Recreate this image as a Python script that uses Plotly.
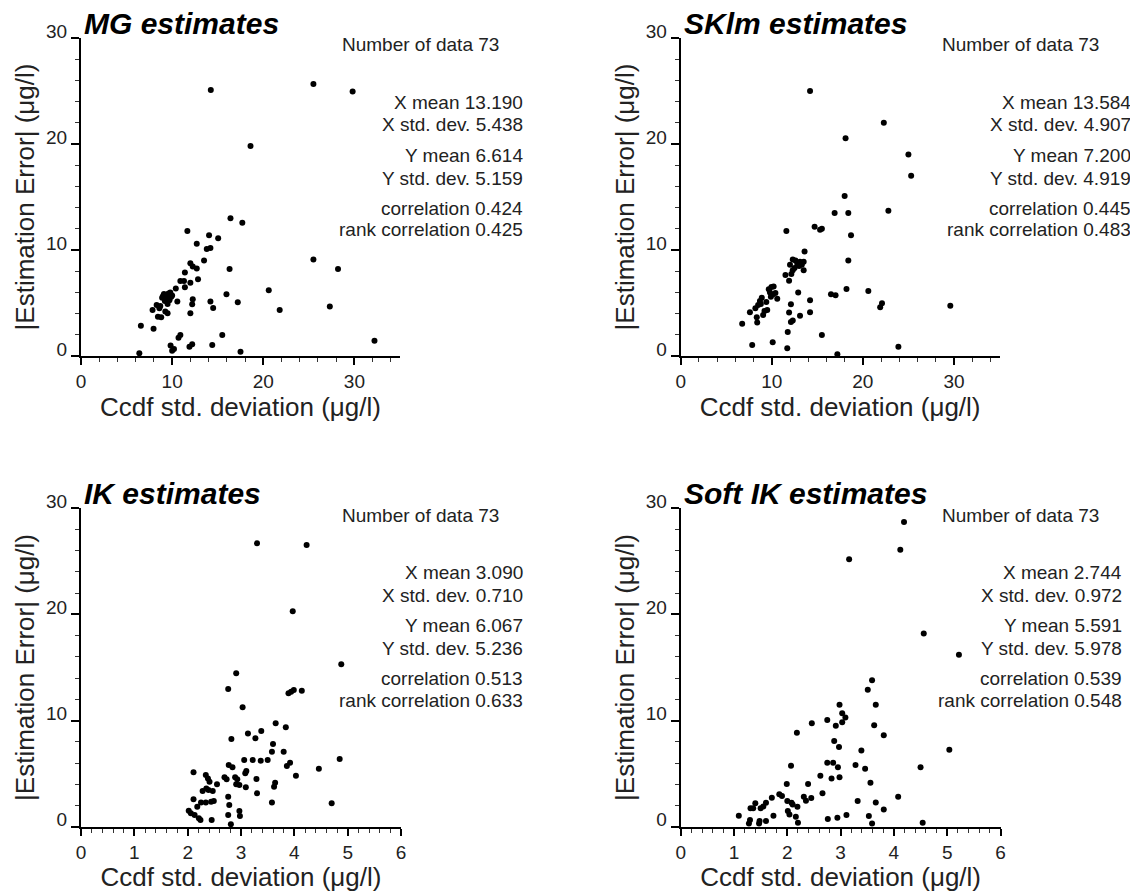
import plotly.graph_objects as go

# ---------------- data ----------------
mg_x = [14.24, 25.5, 29.8, 18.6, 16.4, 17.7, 11.67, 14.05, 15.05, 12.7, 13.8, 14.2, 25.5, 28.2, 16.3,
        13.5, 12.0, 12.26, 12.7, 11.4, 12.84, 10.9, 11.3, 12.0, 11.4, 10.4, 20.6, 9.8, 9.4, 9.0,
        9.9, 9.3, 9.7, 8.9, 15.96, 10.57, 12.26, 14.2, 17.2, 12.2, 8.3, 8.7, 27.3, 14.5, 21.8,
        7.85, 9.25, 9.5, 8.44, 8.8, 12.0, 6.57, 7.96, 10.9, 10.7, 15.5, 14.4, 12.2, 11.9, 9.83,
        10.2, 10.0, 6.4, 17.5, 32.2, 9.6, 9.2, 10.0, 9.5, 9.1, 9.7, 8.6, 9.3]
mg_y = [25.1, 25.65, 24.96, 19.8, 13.0, 12.56, 11.8, 11.4, 11.1, 10.6, 10.1, 10.2, 9.1, 8.2, 8.2,
        9.0, 8.75, 8.44, 8.25, 7.87, 7.24, 7.08, 7.08, 6.92, 6.48, 6.36, 6.2, 5.98, 5.76, 5.67,
        5.6, 5.45, 5.38, 5.5, 5.82, 5.13, 5.35, 5.13, 5.07, 4.88, 4.82, 4.72, 4.66, 4.53, 4.34,
        4.34, 4.19, 4.03, 3.71, 3.65, 4.03, 2.86, 2.58, 1.98, 1.73, 1.98, 1.04, 1.1, 0.88, 0.98,
        0.66, 0.5, 0.25, 0.41, 1.44, 5.9, 5.2, 5.7, 4.9, 5.85, 5.25, 4.5, 5.55]

sk_x = [14.2, 22.3, 18.1, 25.0, 25.3, 18.0, 16.9, 18.4, 22.8, 11.6, 14.7, 15.3, 15.5, 18.7, 13.6,
        18.4, 12.3, 12.6, 13.1, 13.5, 12.0, 13.0, 12.3, 13.5, 11.5, 11.9, 12.15, 9.96, 10.2, 9.67,
        9.8, 10.1, 10.6, 12.9, 18.2, 20.6, 16.5, 17.0, 8.9, 8.7, 8.5, 8.2, 7.6, 9.5, 9.2,
        9.05, 14.2, 12.1, 22.1, 21.9, 29.6, 11.9, 14.2, 13.1, 8.35, 12.3, 12.1, 8.4, 6.75, 11.75,
        15.5, 10.1, 7.85, 11.7, 23.9, 17.2, 9.4, 10.4, 12.8, 13.3, 8.8, 9.9, 12.5]
sk_y = [25.0, 22.0, 20.55, 19.0, 17.0, 15.1, 13.5, 13.5, 13.7, 11.8, 12.2, 11.9, 12.0, 11.4, 9.85,
        9.0, 9.1, 9.0, 8.9, 8.9, 8.6, 8.5, 8.1, 8.1, 7.65, 7.1, 7.74, 6.5, 6.55, 6.3,
        6.0, 5.8, 5.4, 6.0, 6.33, 6.14, 5.82, 5.73, 5.5, 5.2, 4.8, 4.5, 4.12, 4.34, 4.25,
        3.87, 5.26, 4.88, 4.97, 4.6, 4.75, 4.1, 4.12, 3.8, 3.65, 3.34, 3.21, 3.15, 3.05, 2.27,
        1.98, 1.29, 1.04, 0.72, 0.88, 0.16, 5.1, 5.95, 8.7, 8.6, 4.9, 5.6, 8.3]

ik_x = [3.30, 4.23, 3.97, 4.88, 2.91, 2.76, 3.89, 3.94, 3.99, 4.14, 3.03, 3.65, 3.84, 3.13, 3.38,
        3.27, 2.82, 3.6, 3.8, 3.58, 3.06, 3.22, 3.37, 3.5, 4.85, 3.92, 3.86, 4.46, 2.77, 2.84,
        3.1, 3.08, 4.03, 2.11, 2.34, 2.38, 2.41, 2.55, 2.69, 2.73, 2.89, 2.93, 3.29, 2.91, 2.97,
        3.09, 3.64, 3.62, 2.28, 2.39, 2.47, 3.3, 2.76, 2.11, 2.25, 2.34, 2.44, 2.49, 3.58, 4.7,
        2.18, 2.78, 2.02, 2.06, 2.13, 2.97, 2.98, 2.21, 2.24, 2.45, 2.76, 2.81, 2.35]
ik_y = [26.7, 26.55, 20.3, 15.3, 14.45, 12.97, 12.57, 12.72, 12.88, 12.82, 11.25, 9.74, 9.36, 8.77, 9.02,
        8.33, 8.26, 7.8, 7.07, 7.07, 6.28, 6.28, 6.22, 6.28, 6.38, 6.03, 5.72, 5.47, 5.81, 5.59,
        5.25, 5.03, 4.81, 5.12, 4.87, 4.55, 4.24, 3.99, 4.65, 4.46, 4.65, 4.46, 4.49, 3.99, 3.93,
        3.71, 4.15, 3.77, 3.36, 3.46, 3.36, 3.14, 2.83, 2.58, 2.29, 2.29, 2.36, 2.42, 2.29, 2.2,
        1.89, 2.04, 1.51, 1.26, 1.1, 1.48, 1.0, 0.79, 0.63, 0.63, 1.1, 0.22, 3.6]

sik_x = [4.19, 4.12, 3.16, 4.56, 5.22, 3.59, 3.51, 2.98, 3.66, 3.03, 3.09, 3.03, 2.75, 2.46, 2.91,
         3.63, 2.18, 3.81, 2.88, 2.97, 3.39, 5.04, 2.75, 2.86, 2.07, 3.28, 2.95, 3.46, 4.5, 2.62,
         2.83, 2.98, 3.56, 1.99, 2.39, 2.66, 1.85, 1.71, 2.31, 2.35, 3.32, 3.66, 4.08, 2.0, 2.08,
         1.6, 1.4, 1.31, 1.36, 1.5, 2.19, 2.01, 2.04, 3.81, 1.09, 1.74, 2.16, 3.11, 2.94, 2.76,
         3.53, 1.3, 1.28, 1.48, 1.47, 1.6, 2.2, 3.59, 4.54, 1.9, 2.1, 1.55, 2.45]
sik_y = [28.7, 26.1, 25.2, 18.2, 16.2, 13.8, 12.9, 11.5, 11.5, 10.7, 10.3, 9.83, 10.05, 9.74, 9.52,
         9.55, 8.86, 8.61, 8.07, 7.51, 7.19, 7.26, 6.03, 6.03, 5.75, 5.81, 5.59, 5.47, 5.59, 4.81,
         4.55, 4.65, 4.15, 4.02, 4.02, 3.14, 3.05, 2.73, 2.83, 2.45, 2.42, 2.29, 2.83, 2.42, 2.26,
         2.26, 2.2, 1.73, 1.73, 1.73, 1.89, 1.48, 1.16, 1.63, 1.04, 1.04, 0.94, 1.1, 0.85, 0.72,
         1.0, 0.63, 0.31, 0.53, 0.31, 0.53, 0.38, 0.31, 0.38, 2.9, 2.1, 1.9, 2.7]

titles = ["MG estimates", "SKlm estimates", "IK estimates", "Soft IK estimates"]
stat_labels = ["X mean", "X std. dev.", "Y mean", "Y std. dev.", "correlation", "rank correlation"]
mg_stats = ["13.190", "5.438", "6.614", "5.159", "0.424", "0.425"]
sk_stats = ["13.584", "4.907", "7.200", "4.919", "0.445", "0.483"]
ik_stats = ["3.090", "0.710", "6.067", "5.236", "0.513", "0.633"]
sik_stats = ["2.744", "0.972", "5.591", "5.978", "0.539", "0.548"]
n_data = [73, 73, 73, 73]

# ---------------- layout ----------------
W, H = 1138, 894
OFF = 8  # page body margin
FONT = "Arial, Liberation Sans, sans-serif"

def px(xp):
    return (xp - OFF) / W

def py(yp):
    return 1 - (yp - OFF) / H

panels = [
    dict(x=mg_x, y=mg_y, stats=mg_stats, xmax=35, dt=10, mdt=2, xl=81, xr=400, yb=356, yt=38,
         numx=340, rx=525),
    dict(x=sk_x, y=sk_y, stats=sk_stats, xmax=35, dt=10, mdt=2, xl=680.7, xr=999.5, yb=356, yt=38,
         numx=940, rx=1133),
    dict(x=ik_x, y=ik_y, stats=ik_stats, xmax=6, dt=1, mdt=0.2, xl=81, xr=401, yb=826.7, yt=508.3,
         numx=340, rx=525),
    dict(x=sik_x, y=sik_y, stats=sik_stats, xmax=6, dt=1, mdt=0.2, xl=680.7, xr=1000.5, yb=826.7, yt=508.3,
         numx=940, rx=1124),
]

fig = go.Figure()
annotations = []
layout_axes = {}
stat_offsets = [64, 87, 117, 140, 170, 192]

for i, p in enumerate(panels):
    k = "" if i == 0 else str(i + 1)
    fig.add_trace(go.Scatter(
        x=p["x"], y=p["y"], mode="markers", xaxis="x" + k, yaxis="y" + k,
        marker=dict(size=6, color="black", line=dict(width=0)),
        cliponaxis=False, showlegend=False, hoverinfo="x+y"))
    layout_axes["xaxis" + k] = dict(
        domain=[px(p["xl"]), px(p["xr"])], range=[0, p["xmax"]], anchor="y" + k,
        automargin=False,
        showline=True, linecolor="black", linewidth=2, mirror=False,
        ticks="outside", ticklen=7, tickwidth=1.5, tickcolor="black",
        tick0=0, dtick=p["dt"],
        minor=dict(dtick=p["mdt"], ticks="outside", ticklen=4, tickwidth=1, tickcolor="#333"),
        showgrid=False, zeroline=False,
        tickfont=dict(family=FONT, size=19, color="#222"),
        title=dict(text="Ccdf std. deviation (μg/l)", standoff=6,
                   font=dict(family=FONT, size=26, color="#222")),
    )
    layout_axes["yaxis" + k] = dict(
        domain=[py(p["yb"]), py(p["yt"])], range=[0, 30], anchor="x" + k,
        automargin=False,
        showline=True, linecolor="black", linewidth=2,
        ticks="outside", ticklen=8, tickwidth=1.5, tickcolor="black",
        tick0=0, dtick=10,
        minor=dict(dtick=2, ticks="outside", ticklen=4, tickwidth=1, tickcolor="#333"),
        showgrid=False, zeroline=False, ticklabelshift=-7,
        tickfont=dict(family=FONT, size=19, color="#222"),
        title=dict(text="|Estimation Error| (μg/l)", standoff=4,
                   font=dict(family=FONT, size=26, color="#222")),
    )
    annotations.append(dict(
        text="<b><i>" + titles[i] + "</i></b>", xref="paper", yref="paper",
        x=px(p["xl"] + 1), y=py(p["yt"] - 15), xanchor="left", yanchor="middle",
        showarrow=False, font=dict(family=FONT, size=30, color="black")))
    annotations.append(dict(
        text="Number of data %d" % n_data[i], xref="paper", yref="paper",
        x=px(p["numx"]), y=py(p["yt"] + 7), xanchor="left", yanchor="middle",
        showarrow=False, font=dict(family=FONT, size=19, color="#222")))
    for lab, val, off in zip(stat_labels, p["stats"], stat_offsets):
        annotations.append(dict(
            text=lab + " " + val, xref="paper", yref="paper",
            x=px(p["rx"]), y=py(p["yt"] + off), xanchor="right", yanchor="middle",
            showarrow=False, font=dict(family=FONT, size=19, color="#222")))

fig.update_layout(
    width=W, height=H, margin=dict(l=0, r=0, t=0, b=0),
    paper_bgcolor="white", plot_bgcolor="white",
    annotations=annotations, **layout_axes)

fig.write_html("out.html")
